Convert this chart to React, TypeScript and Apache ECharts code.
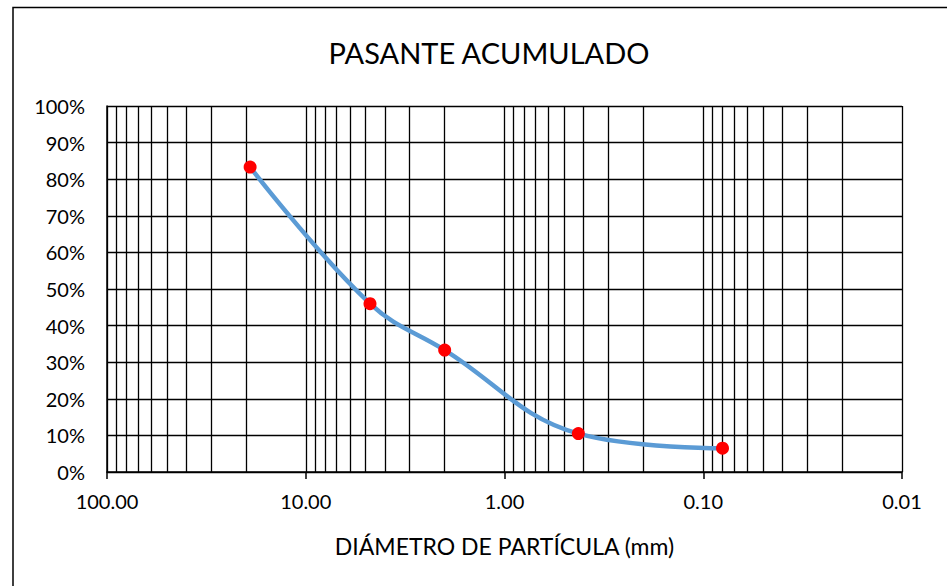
import React, { useEffect, useRef } from "react";
import * as echarts from "echarts";

const diameters = [19.05, 4.75, 2.0, 0.425, 0.08];
const passing = [83.3, 46.0, 33.3, 10.5, 6.5];
const decades = [0.01, 0.1, 1, 10];
const minorMultipliers = [2, 3, 4, 5, 6, 7, 8, 9];
const yTicks = [0, 10, 20, 30, 40, 50, 60, 70, 80, 90, 100];

const FONT = "Lato";

export default function App() {
  const ref = useRef<HTMLDivElement>(null);
  useEffect(() => {
    if (!ref.current) return;
    const chart = echarts.init(ref.current, undefined, { renderer: "svg" });
    const minorLines: number[] = [];
    decades.forEach((d) => minorMultipliers.forEach((m) => minorLines.push(+(d * m).toPrecision(3))));
    const points = diameters.map((d, i) => [d, passing[i]]);
    chart.setOption({
      animation: false,
      backgroundColor: "#fff",
      textStyle: { fontFamily: FONT },
      title: {
        text: "PASANTE ACUMULADO",
        left: 484,
        top: 33,
        textAlign: "center",
        textStyle: { fontFamily: FONT, fontSize: 29, fontWeight: "normal", color: "#000" },
      },
      graphic: [
        {
          type: "rect",
          shape: { x: 13, y: 7.5, width: 1000, height: 1000 },
          style: { fill: "none", stroke: "#000", lineWidth: 1.5 },
          silent: true,
        },
      ],
      grid: { left: 107, top: 106, right: 45, bottom: 114, containLabel: false },
      xAxis: {
        type: "log",
        logBase: 10,
        inverse: true,
        min: 0.01,
        max: 100,
        name: "DIÁMETRO DE PARTÍCULA (mm)",
        nameLocation: "middle",
        nameGap: 62,
        nameTextStyle: { fontFamily: FONT, fontSize: 23, color: "#000" },
        axisLine: { show: true, lineStyle: { color: "#000", width: 1.5 } },
        axisTick: { show: true, length: 7, inside: false, lineStyle: { color: "#000", width: 1.5 } },
        axisLabel: {
          fontFamily: FONT,
          fontSize: 20,
          color: "#000",
          margin: 19,
          formatter: (v: number) => v.toFixed(2),
        },
        splitLine: { show: true, lineStyle: { color: "#000", width: 1.3 } },
      },
      yAxis: {
        type: "value",
        min: yTicks[0],
        max: yTicks[yTicks.length - 1],
        interval: 10,
        axisLine: { show: true, lineStyle: { color: "#000", width: 1.5 } },
        axisTick: { show: false },
        axisLabel: {
          fontFamily: FONT,
          fontSize: 20,
          color: "#000",
          margin: 22,
          formatter: "{value}%",
        },
        splitLine: { show: true, lineStyle: { color: "#000", width: 1.3 } },
      },
      series: [
        {
          type: "line",
          data: points,
          showSymbol: false,
          lineStyle: { width: 0, opacity: 0 },
          silent: true,
          z: 1,
          markLine: {
            silent: true,
            symbol: ["none", "none"],
            label: { show: false },
            emphasis: { disabled: true },
            lineStyle: { color: "#000", width: 1.3, type: "solid" },
            data: minorLines.map((v) => ({ xAxis: v })),
          },
        },
        {
          type: "line",
          data: points,
          smooth: 0.4,
          z: 5,
          symbol: "circle",
          symbolSize: 13,
          itemStyle: { color: "#FF0000" },
          lineStyle: { color: "#5B9BD5", width: 4.5 },
        },
      ],
    });
    return () => chart.dispose();
  }, []);
  return (
    <div
      ref={ref}
      style={{ position: "absolute", left: 0, top: 0, width: 947, height: 586 }}
    />
  );
}
